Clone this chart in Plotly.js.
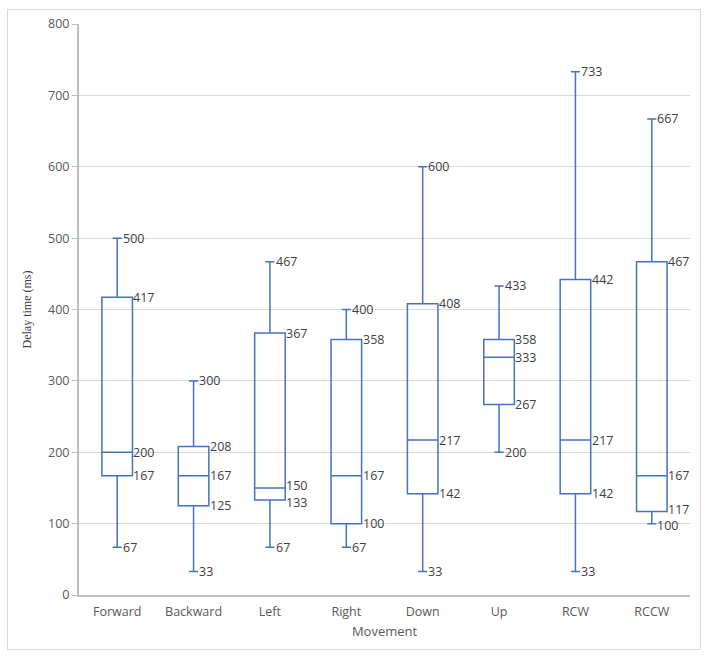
<!DOCTYPE html>
<html>
<head>
<meta charset="utf-8">
<script src="https://cdn.plot.ly/plotly-3.0.1.min.js"></script>
<style>
  html, body { margin: 0; padding: 0; background: #fff; }
  #chart { position: absolute; left: 0; top: 0; width: 709px; height: 662px; }
  #frame { position: absolute; left: 7px; top: 9px; width: 692px; height: 639px; border: 1px solid #d9d9d9; pointer-events: none; }
</style>
</head>
<body>
<div id="chart"></div>
<div id="frame"></div>
<script>
const categories = ["Forward", "Backward", "Left", "Right", "Down", "Up", "RCW", "RCCW"];
const maxVals    = [500, 300, 467, 400, 600, 433, 733, 667];
const q3Vals     = [417, 208, 367, 358, 408, 358, 442, 467];
const medianVals = [200, 167, 150, 167, 217, 333, 217, 167];
const q1Vals     = [167, 125, 133, 100, 142, 267, 142, 117];
const minVals    = [67, 33, 67, 67, 33, 200, 33, 100];

const pos = categories.map((c, i) => i);
const boxHalf = 0.2;
const capHalf = 0.06;

const box = {
  type: 'box',
  x: pos,
  q1: q1Vals,
  median: medianVals,
  q3: q3Vals,
  lowerfence: minVals,
  upperfence: maxVals,
  width: 2 * boxHalf,
  whiskerwidth: 0.3,
  boxpoints: false,
  fillcolor: 'rgba(255,255,255,0)',
  line: { color: '#4472C4', width: 1.5 },
  hoverinfo: 'skip',
  showlegend: false
};

const annotations = [];
function addLabel(x, y, shift) {
  annotations.push({
    x: x, y: y, xref: 'x', yref: 'y', text: String(y),
    showarrow: false, xanchor: 'left', yanchor: 'middle', xshift: 0, yshift: shift || 0,
    borderpad: 0,
    font: { family: 'Open Sans, sans-serif', size: 12.5, color: '#404040' }
  });
}
categories.forEach((c, i) => {
  const closeMed = (medianVals[i] - q1Vals[i]) < 20;
  const closeMin = (q1Vals[i] - minVals[i]) < 20;
  addLabel(i + capHalf, maxVals[i], 0);
  addLabel(i + boxHalf, q3Vals[i], 0);
  addLabel(i + boxHalf, medianVals[i], closeMed ? 2 : 0);
  addLabel(i + boxHalf, q1Vals[i], closeMed ? -2 : (closeMin ? 2 : 0));
  addLabel(i + capHalf, minVals[i], closeMin ? -2 : 0);
});

const layout = {
  width: 709, height: 662,
  margin: { l: 79, r: 19, t: 24, b: 67 },
  paper_bgcolor: '#ffffff', plot_bgcolor: '#ffffff',
  showlegend: false,
  xaxis: {
    range: [-0.5, 7.5],
    tickmode: 'array', tickvals: pos, ticktext: categories,
    showgrid: false, zeroline: false,
    showline: true, linecolor: '#bfbfbf', linewidth: 2,
    ticks: '', ticklabelstandoff: 4,
    tickfont: { family: 'Open Sans, sans-serif', size: 12.5, color: '#595959' },
    title: { text: 'Movement', standoff: 8, font: { family: 'Open Sans, sans-serif', size: 13, color: '#595959' } }
  },
  yaxis: {
    range: [0, 800], dtick: 100, tick0: 0,
    showgrid: true, gridcolor: '#d9d9d9', gridwidth: 1,
    zeroline: false,
    showline: true, linecolor: '#bfbfbf', linewidth: 2,
    ticks: 'outside', ticklen: 5, tickcolor: '#bfbfbf', tickwidth: 1,
    tickfont: { family: 'Open Sans, sans-serif', size: 12.5, color: '#595959' },
    title: { text: 'Delay time (ms)', standoff: 14, font: { family: 'Liberation Serif, serif', size: 12, color: '#404040' } }
  },
  annotations: annotations
};

Plotly.newPlot('chart', [box], layout, { displayModeBar: false, staticPlot: true });
</script>
</body>
</html>
